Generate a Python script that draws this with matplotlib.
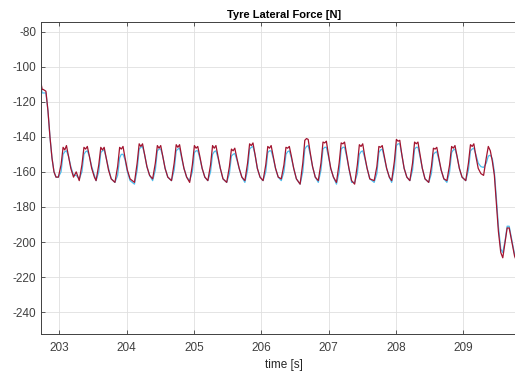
# Tyre lateral force over time, two overlaid signals

import matplotlib
matplotlib.use('Agg')
import matplotlib.pyplot as plt

plt.rcParams['font.family'] = ['Liberation Sans', 'DejaVu Sans']
plt.rcParams['axes.unicode_minus'] = False

# time [s]
time_s = [
    202.73, 202.745, 202.76, 202.80, 202.83, 202.86, 202.89, 202.92, 202.95, 202.985,
    203.025, 203.055, 203.08, 203.105, 203.135, 203.17, 203.21, 203.25,
    203.295, 203.335, 203.365, 203.39, 203.415, 203.445, 203.48, 203.52,
    203.545, 203.585, 203.615, 203.64, 203.665, 203.695, 203.73, 203.77,
    203.825, 203.865, 203.895, 203.92, 203.945, 203.975, 204.01, 204.05,
    204.115, 204.155, 204.185, 204.21, 204.235, 204.265, 204.30, 204.34,
    204.385, 204.425, 204.455, 204.48, 204.505, 204.535, 204.57, 204.61,
    204.665, 204.705, 204.735, 204.76, 204.785, 204.815, 204.85, 204.89,
    204.935, 204.975, 205.005, 205.03, 205.055, 205.085, 205.12, 205.16,
    205.205, 205.245, 205.275, 205.30, 205.325, 205.355, 205.39, 205.43,
    205.485, 205.525, 205.555, 205.58, 205.605, 205.635, 205.67, 205.71,
    205.755, 205.795, 205.825, 205.85, 205.875, 205.905, 205.94, 205.98,
    206.025, 206.065, 206.095, 206.12, 206.145, 206.175, 206.21, 206.25,
    206.295, 206.335, 206.365, 206.39, 206.415, 206.445, 206.48, 206.52,
    206.575, 206.615, 206.645, 206.67, 206.695, 206.725, 206.76, 206.80,
    206.845, 206.885, 206.915, 206.94, 206.965, 206.995, 207.03, 207.07,
    207.115, 207.155, 207.185, 207.21, 207.235, 207.265, 207.30, 207.34,
    207.385, 207.425, 207.455, 207.48, 207.505, 207.535, 207.57, 207.61,
    207.675, 207.715, 207.745, 207.77, 207.795, 207.825, 207.86, 207.90,
    207.935, 207.975, 208.005, 208.03, 208.055, 208.085, 208.12, 208.16,
    208.205, 208.245, 208.275, 208.30, 208.325, 208.355, 208.39, 208.43,
    208.485, 208.525, 208.555, 208.58, 208.605, 208.635, 208.67, 208.71,
    208.755, 208.795, 208.825, 208.85, 208.875, 208.905, 208.94, 208.98,
    209.035, 209.075, 209.105, 209.13, 209.155, 209.185, 209.22, 209.26,
    209.30, 209.34, 209.37, 209.40, 209.43, 209.46, 209.49, 209.52, 209.555, 209.585,
    209.62, 209.65, 209.68, 209.72, 209.76, 209.80, 209.84,
]

# measured force (dark red)
force_red = [
    -110, -113, -113, -114, -125, -140, -152, -160, -163, -163,
    -156, -146, -147.5, -145, -151, -158, -163, -160,
    -165, -156, -146, -147, -145.5, -151, -158, -163,
    -165, -156, -146, -147.5, -146, -152, -159, -164,
    -166, -157, -146, -147, -145.5, -152, -159, -164,
    -166, -155, -144, -145.5, -144, -150, -157, -162,
    -164, -155, -145, -146.5, -145, -151, -158, -163,
    -165, -155, -144.5, -146, -144.5, -151, -158, -163,
    -166, -156, -145, -146.5, -145.5, -151, -158, -163,
    -165, -156, -145, -146.5, -145, -151, -158, -164,
    -166, -157, -147, -148, -146.5, -152, -158, -163,
    -165, -155, -144, -145, -143.5, -150, -158, -163,
    -165, -156, -145.5, -146.5, -145, -151, -158, -163,
    -164, -156, -146, -146.5, -145.5, -151, -158, -164,
    -167, -155, -142, -141, -141.5, -149, -157, -163,
    -165, -155, -143, -143.5, -142.5, -150, -158, -163,
    -166, -155, -143.5, -144, -143, -150, -158, -165,
    -167, -156, -144.5, -145.5, -144, -151, -158, -164,
    -165, -157, -145.5, -146, -145, -151, -158, -163,
    -165, -154, -141.5, -142.5, -142, -150, -158, -163,
    -165, -155, -143, -144, -143, -150, -158, -164,
    -166, -157, -146.5, -147, -146, -152, -159, -164,
    -165, -156, -145.5, -146.5, -145, -151, -158, -163,
    -165, -155, -144.5, -145.5, -144, -151, -158, -161,
    -162, -152, -145.5, -148, -154, -162, -178, -194, -206, -209,
    -200, -192, -192, -200, -208, -212, -214,
]

# model force (light blue)
force_blue = [
    -112, -115, -115, -115, -125, -140, -152, -160, -163, -163,
    -160, -150, -148.5, -148, -151, -157, -162, -162,
    -164, -160, -150, -148.5, -148, -151, -157, -162,
    -165, -160, -149, -148, -147.5, -152, -158, -164,
    -166, -162, -152, -150, -150, -153, -160, -165,
    -167, -159, -147, -146, -145.5, -150, -157, -162,
    -165, -159, -148, -147, -147, -151, -158, -163,
    -165, -159, -148, -147, -146.5, -152, -158, -163,
    -165, -160, -149, -148, -148, -152, -158, -163,
    -165, -160, -150, -148.5, -148, -152, -158, -164,
    -166, -161, -151, -150, -149.5, -153, -158, -163,
    -166, -159, -147, -146, -145.5, -150, -158, -163,
    -165, -160, -149, -148, -148, -152, -158, -163,
    -165, -160, -150, -148.5, -148, -152, -158, -164,
    -167, -160, -147, -145.5, -145, -150, -157, -163,
    -166, -159, -147, -146, -146, -151, -158, -163,
    -167, -160, -147, -146, -146, -151, -158, -166,
    -166, -161, -150, -148.5, -148, -152, -158, -164,
    -166, -161, -149, -147.5, -147, -152, -158, -163,
    -166, -158, -145, -144, -144, -150, -158, -163,
    -165, -159, -147, -146, -146, -151, -158, -164,
    -166, -161, -150, -149, -148.5, -153, -159, -164,
    -166, -160, -149, -147.5, -147, -151, -158, -163,
    -165, -159, -148, -147, -146.5, -150, -155, -157,
    -157.5, -155, -151, -150.5, -152.5, -160, -175, -191, -204, -206,
    -199, -191, -191, -199, -207, -212, -214,
]

fig = plt.figure(figsize=(5.15, 3.72), dpi=100)
# the axes run a little past the right edge of the picture
ax = fig.add_axes([0.080, 0.102, 0.944, 0.839])

ax.plot(time_s, force_blue, color='#4DBEEE', linewidth=0.9)
ax.plot(time_s, force_red, color='#A2142F', linewidth=0.9)

ax.set_xlim(202.73, 209.95)
ax.set_ylim(-252.5, -74.5)
ax.set_xticks([203, 204, 205, 206, 207, 208, 209])
ax.set_yticks([-240, -220, -200, -180, -160, -140, -120, -100, -80])

ax.grid(True, color='#dfdfdf', linewidth=0.6)
ax.set_axisbelow(True)

for s in ax.spines.values():
    s.set_color('#404040')
    s.set_linewidth(0.7)

ax.tick_params(axis='both', direction='in', length=3, width=0.6,
               colors='#404040', labelsize=8.5, top=True, right=True)
ax.tick_params(axis='x', pad=6)

ax.set_title('Tyre Lateral Force [N]', fontsize=8, fontweight='bold', pad=3)
ax.set_xlabel('time [s]', fontsize=8.5, color='#262626', labelpad=3)

fig.savefig('out.png', dpi=100)
